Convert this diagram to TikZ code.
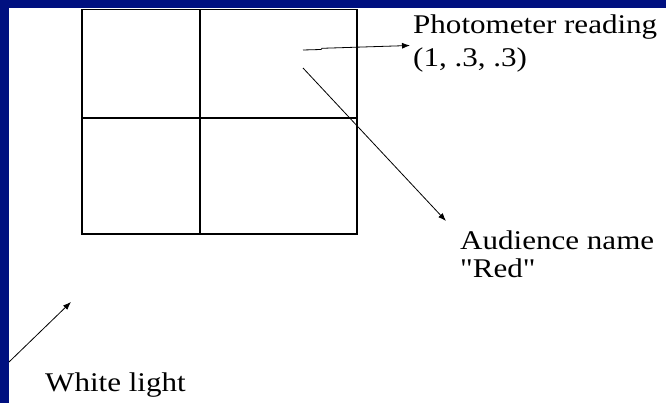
\documentclass[tikz,border=0pt]{standalone}
\usepackage{fontspec}
\newfontfamily\slidefont{Liberation Serif}
\usetikzlibrary{arrows.meta}
\definecolor{slideblue}{RGB}{0,16,128}
\newcommand{\wide}[1]{\scalebox{1.15}[1]{#1}}
\begin{document}
\begin{tikzpicture}[x=1pt,y=-1pt,
  lbl/.style={anchor=base west,inner sep=0pt,font=\slidefont\fontsize{27}{30}\selectfont},
  conn/.style={line width=0.8pt,-{Latex[length=8pt,width=6pt]}},
  gridline/.style={line width=1.1pt}]
\fill[white] (0,0) rectangle (666,403);
\useasboundingbox (0,0) rectangle (666,403);
\fill[slideblue] (0,0) rectangle (666,8);
\fill[slideblue] (0,0) rectangle (9,403);
% grid
\draw[gridline] (82,9.5) rectangle (357,234);
\draw[gridline] (200,9.5) -- (200,234);
\draw[gridline] (82,118) -- (357,118);
% labels
\node[lbl] (photo) at (413,34) {\wide{Photometer reading}};
\node[lbl] (val) at (413,67) {\wide{(1, .3, .3)}};
\node[lbl] (aud) at (460,250) {\wide{Audience name}};
\node[lbl] (red) at (460,277) {\wide{"Red"}};
\node[lbl] (white) at (45,391) {\wide{White light}};
% connector points
\coordinate (a1) at (303,50);
\coordinate (a2) at (321,49.5);
\coordinate (a3) at (322,48.3);
\coordinate (atip) at (410,45.5);
\coordinate (b1) at (303,68);
\coordinate (btip) at (446,221);
\coordinate (c1) at (9,362);
\coordinate (ctip) at (71,302);
\draw[conn] (a1) -- (a2) -- (a3) -- (atip);
\draw[conn] (b1) -- (btip);
\draw[conn] (c1) -- (ctip);
\end{tikzpicture}
\end{document}
